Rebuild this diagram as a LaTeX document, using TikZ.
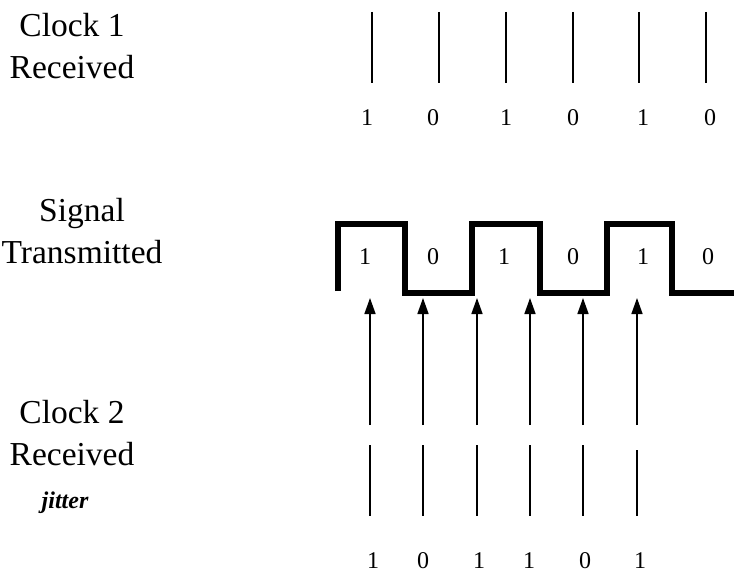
\documentclass[tikz,border=0pt]{standalone}
\usepackage{fontspec}
\setmainfont{Liberation Serif}
\usetikzlibrary{arrows.meta,positioning}

\begin{document}
\begin{tikzpicture}[
  x=1pt, y=-1pt,
  rowlabel/.style={align=center, inner sep=0pt, font=\fontsize{33.5}{42}\selectfont},
  bit/.style={inner sep=0pt, font=\fontsize{24}{26}\selectfont},
  tick/.style={line width=1.8pt},
  signal/.style={line width=5.5pt, line join=miter},
  arr/.style={-{Triangle[length=16pt, width=11pt]}, line width=1.5pt},
]
  \useasboundingbox (0,0) rectangle (734,575);

  % Row labels
  \node[rowlabel] (clkone) at (72,46) {Clock 1\\Received};
  \node[rowlabel] (sig) at (82,231) {Signal\\Transmitted};
  \node[rowlabel] (clktwo) at (72,433) {Clock 2\\Received};
  \node[inner sep=0pt, font=\fontsize{24}{26}\selectfont\bfseries\itshape] (jitter) at (65,503) {jitter};

  % Clock 1 ticks and bits
  \foreach \x/\b [count=\i] in {372/1, 439/0, 506/1, 573/0, 639/1, 706/0} {
    \coordinate (ta\i) at (\x,12);
    \coordinate (ba\i) at (\x,83);
    \draw[tick] (ta\i) -- (ba\i);
  }
  \foreach \x/\b [count=\i] in {367/1, 433/0, 506/1, 573/0, 643/1, 710/0}
    \node[bit] (bita\i) at (\x,118) {\b};

  % Transmitted signal
  \draw[signal] (338,291) -- (338,224) -- (405,224) -- (405,293) -- (472,293)
    -- (472,224) -- (540,224) -- (540,293) -- (607,293) -- (607,224)
    -- (672,224) -- (672,293) -- (734,293);
  \foreach \x/\b [count=\i] in {365/1, 433/0, 504/1, 573/0, 643/1, 708/0}
    \node[bit] (bits\i) at (\x,257) {\b};

  % Clock 2 ticks, arrows and bits
  \foreach \x/\s [count=\i] in {370/445, 423/445, 477/445, 530/445, 583/445, 637/450} {
    \coordinate (tip\i) at (\x,298);
    \coordinate (tail\i) at (\x,425);
    \coordinate (tb\i) at (\x,\s);
    \coordinate (bb\i) at (\x,516);
    \draw[arr] (tail\i) -- (tip\i);
    \draw[tick] (tb\i) -- (bb\i);
  }
  \foreach \x/\b [count=\i] in {373/1, 423/0, 479/1, 529/1, 585/0, 640/1}
    \node[bit] (bitb\i) at (\x,561) {\b};
\end{tikzpicture}
\end{document}
